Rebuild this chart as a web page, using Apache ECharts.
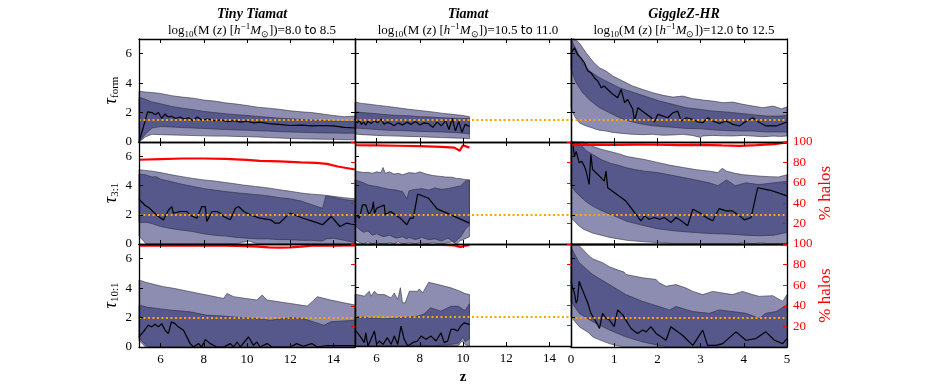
<!DOCTYPE html>
<html>
<head>
<meta charset="utf-8">
<script src="https://cdn.jsdelivr.net/npm/echarts@6/dist/echarts.min.js"></script>
<style>
  html, body { margin: 0; padding: 0; background: #fff; }
  #chart { width: 926px; height: 386px; }
</style>
</head>
<body>
<div id="chart"></div>
<script>
// band rows are [z, lower, upper]; median / % rows are [z, value]

// ---- tau_form ----
const tinyFormOuter = [[5,0,3.45],[5.3,0.35,3.4],[5.6,0.52,3.36],[6,0.5,3.3],[6.5,0.48,3.15],[7,0.46,3.05],[7.5,0.44,2.98],[8,0.42,2.85],[8.5,0.4,2.78],[9,0.4,2.66],[9.5,0.38,2.58],[10,0.36,2.48],[10.5,0.34,2.36],[11,0.3,2.3],[11.5,0.27,2.22],[12,0.24,2.12],[12.5,0.22,2.05],[13,0.2,2.0],[13.5,0.19,1.9],[14,0.18,1.8],[14.5,0.16,1.72],[15,0.15,1.76]];
const tinyFormInner = [[5,0,3.05],[5.3,0.55,2.9],[5.6,0.95,2.72],[6,1.05,2.6],[6.5,1.02,2.42],[7,0.98,2.3],[7.5,0.95,2.2],[8,0.92,2.08],[8.5,0.88,2.0],[9,0.85,1.92],[9.5,0.82,1.86],[10,0.8,1.8],[10.5,0.76,1.74],[11,0.74,1.68],[11.5,0.7,1.62],[12,0.68,1.58],[12.5,0.66,1.54],[13,0.64,1.5],[13.5,0.62,1.46],[14,0.61,1.42],[14.5,0.6,1.4],[15,0.6,1.38]];
const tinyFormMed = [[5,0],[5.2,1.0],[5.4,2.05],[5.6,2.0],[5.75,1.85],[5.9,2.0],[6.05,1.6],[6.2,1.9],[6.35,1.7],[6.5,1.75],[6.7,1.6],[6.9,1.7],[7.1,1.55],[7.3,1.65],[7.5,1.45],[7.7,1.7],[7.9,1.5],[8.2,1.55],[8.5,1.45],[8.8,1.5],[9.1,1.38],[9.4,1.45],[9.7,1.35],[10.0,1.42],[10.3,1.3],[10.6,1.35],[11.0,1.25],[11.5,1.2],[12,1.12],[12.5,1.15],[13,1.1],[13.5,1.12],[14,1.1],[14.5,1.0],[15,0.95]];

const tiamatFormOuter = [[5,0.55,2.72],[5.3,0.5,2.62],[5.6,0.48,2.58],[6,0.45,2.5],[6.5,0.42,2.42],[7,0.4,2.32],[7.5,0.38,2.22],[8,0.36,2.14],[8.5,0.33,2.06],[9,0.3,1.96],[9.5,0.28,1.88],[10,0.25,1.8],[10.3,0.22,1.72]];
const tiamatFormInner = [[5,0.95,2.05],[5.5,0.9,1.98],[6,0.85,1.92],[6.5,0.8,1.85],[7,0.78,1.8],[7.5,0.75,1.78],[8,0.72,1.72],[8.5,0.7,1.7],[9,0.68,1.65],[9.5,0.65,1.62],[10,0.6,1.6],[10.3,0.55,1.6]];
const tiamatFormMed = [[5,1.55],[5.1,1.3],[5.2,1.45],[5.3,1.2],[5.4,1.35],[5.5,1.15],[5.6,1.4],[5.75,1.25],[5.9,1.45],[6.05,1.3],[6.2,1.55],[6.35,1.2],[6.5,1.35],[6.65,1.25],[6.8,1.1],[7.0,1.3],[7.2,1.15],[7.4,1.35],[7.6,1.2],[7.8,1.4],[8.0,1.15],[8.2,1.3],[8.4,1.25],[8.6,1.0],[8.8,1.35],[9.0,1.1],[9.2,1.45],[9.35,0.85],[9.5,1.6],[9.65,0.75],[9.8,1.4],[9.95,0.65],[10.1,1.2],[10.3,1.05]];

const giggleFormOuter = [[0,2.33,7],[0.08,1.76,7],[0.19,1.31,6.74],[0.35,1.09,6.06],[0.5,0.95,5.5],[0.58,0.86,5.25],[0.66,0.8,5.04],[0.81,0.75,4.82],[0.97,0.65,4.48],[1.2,0.58,4.14],[1.43,0.52,3.8],[1.66,0.5,3.57],[1.89,0.52,3.35],[2.13,0.46,3.17],[2.36,0.48,3.05],[2.59,0.52,3.12],[2.82,0.44,2.94],[3.0,0.3,2.88],[3.05,0.41,2.85],[3.28,0.45,2.78],[3.52,0.42,2.67],[3.75,0.41,2.71],[3.98,0.45,2.56],[4.21,0.4,2.44],[4.44,0.36,2.33],[4.68,0.4,2.44],[4.87,0.38,2.26],[5,0.41,2.38]];
const giggleFormInner = [[0,4.93,7],[0.08,4.3,6.52],[0.12,4.03,6.3],[0.27,3.35,5.38],[0.43,2.85,4.82],[0.66,2.33,4.37],[0.89,1.99,4.03],[1.12,1.65,3.69],[1.35,1.42,3.46],[1.58,1.25,3.24],[1.82,1.13,3.01],[2.05,1.06,2.78],[2.36,1.0,2.56],[2.67,0.92,2.33],[2.98,0.9,2.22],[3.28,0.83,2.1],[3.59,0.77,2.04],[3.9,0.75,1.95],[4.21,0.74,1.86],[4.52,0.68,1.76],[4.83,0.68,1.76],[5,0.68,1.81]];
const giggleFormMed = [[0,6.06],[0.08,6.4],[0.15,5.95],[0.23,5.72],[0.31,5.38],[0.39,4.82],[0.46,4.71],[0.54,4.37],[0.62,4.14],[0.7,3.69],[0.77,3.8],[0.85,3.57],[0.97,3.24],[1.08,3.01],[1.16,3.57],[1.24,2.67],[1.31,2.9],[1.43,2.22],[1.47,1.43],[1.55,2.33],[1.7,1.99],[1.86,1.65],[1.93,1.36],[2.01,1.88],[2.13,1.76],[2.24,1.65],[2.36,1.99],[2.47,2.1],[2.55,1.43],[2.67,1.65],[2.82,1.54],[2.94,1.36],[3.05,1.31],[3.17,1.65],[3.28,1.43],[3.44,1.27],[3.59,1.43],[3.75,1.2],[3.9,1.09],[4.06,1.43],[4.21,1.65],[4.37,1.31],[4.52,1.09],[4.75,1.09],[5,1.36]];

// ---- tau_3:1 ----
const tiny31Outer = [[5,0.55,5.1],[5.3,0.05,5.05],[5.6,0,5.0],[6,0,4.9],[6.5,0,4.75],[7,0,4.62],[7.5,0,4.5],[8,0,4.4],[8.5,0,4.32],[9,0,4.22],[9.5,0,4.12],[9.8,0.12,4.05],[10.1,0.2,4.0],[10.4,0.05,3.95],[10.8,0,3.88],[11.2,0,3.8],[11.6,0,3.7],[12,0,3.62],[12.5,0,3.5],[13,0,3.42],[13.5,0,3.37],[14,0,3.27],[14.5,0,3.18],[15,0,3.1]];
const tiny31Inner = [[5,1.45,4.8],[5.3,1.5,4.75],[5.6,1.4,4.6],[5.8,1.3,4.62],[6,1.2,4.45],[6.5,1.05,4.28],[7,0.95,4.1],[7.5,0.85,3.95],[8,0.7,3.8],[8.5,0.6,3.7],[9,0.55,3.6],[9.5,0.45,3.52],[10,0.4,3.45],[10.5,0.35,3.38],[11,0.35,3.3],[11.5,0.3,3.18],[12,0.3,3.1],[12.5,0.25,2.95],[13,0.25,2.7],[13.5,0.2,2.45],[13.65,0.35,3.3],[14,0.4,3.2],[14.5,0.25,3.05],[15,0.1,2.95]];
const tiny31Med = [[5,3.07],[5.28,2.66],[5.51,2.43],[5.59,2.32],[5.82,1.98],[6.13,1.64],[6.36,2.32],[6.52,2.57],[6.59,2.11],[6.9,2.23],[7.21,2.23],[7.37,1.98],[7.68,1.77],[7.91,2.57],[8.07,2.57],[8.14,1.55],[8.22,1.43],[8.38,2.23],[8.61,2.23],[8.76,2.11],[8.92,1.89],[9.23,1.66],[9.46,2.45],[9.61,2.57],[9.85,2.23],[10.15,2.0],[10.6,1.77],[11.1,1.66],[11.3,1.43],[11.5,1.43],[11.9,2.0],[12.0,2.11],[12.6,1.77],[13.3,1.43],[13.5,1.32],[13.9,1.89],[14.3,1.2],[14.6,1.43],[15,1.32]];
const tiny31Pct = [[5,82.6],[6,83.2],[7,83.8],[8,83.8],[9,83.5],[10,82.5],[10.6,81.5],[11.5,81],[12.5,80],[13.2,79.5],[13.7,78.5],[14.2,76],[14.6,74.5],[15,73]];

const tiamat31Outer = [[5,0.3,5.0],[5.2,0.1,4.95],[5.4,0,4.9],[5.6,0.15,4.92],[5.8,0,4.85],[6.0,0.1,4.95],[6.2,0,4.9],[6.3,0.05,5.25],[6.4,0,4.85],[6.6,0.1,4.95],[6.8,0,4.8],[7.0,0.15,4.85],[7.2,0,4.75],[7.5,0.1,4.9],[7.8,0,4.85],[8.0,0.1,4.95],[8.3,0,4.8],[8.6,0.1,4.7],[8.9,0,4.65],[9.2,0.05,4.6],[9.5,0.15,4.58],[9.7,0,4.5],[9.85,0.2,4.5],[10.0,0.3,4.45],[10.3,0.5,4.4]];
const tiamat31Inner = [[5,1.3,4.4],[5.2,1.0,4.3],[5.4,0.8,4.2],[5.6,0.9,4.05],[5.8,0.6,4.0],[6.0,0.7,3.95],[6.3,0.5,3.85],[6.6,0.6,3.75],[6.9,0.4,3.7],[7.2,0.5,3.6],[7.4,0.35,3.1],[7.5,0.45,3.65],[7.8,0.3,3.75],[8.1,0.45,3.8],[8.4,0.3,3.7],[8.7,0.35,3.85],[9.0,0.2,3.75],[9.3,0.4,3.8],[9.6,0.1,3.9],[9.9,0.5,4.0],[10.1,1.0,4.3],[10.3,1.3,4.4]];
const tiamat31Med = [[5.05,2.0],[5.2,1.77],[5.35,2.68],[5.5,2.68],[5.65,2.0],[5.8,2.45],[5.85,2.9],[5.9,2.1],[6.0,2.45],[6.35,2.68],[6.4,2.0],[6.65,2.23],[7.1,1.77],[7.4,1.32],[7.55,1.77],[7.7,1.77],[7.9,3.43],[8.4,3.14],[8.8,2.41],[9.45,2.0],[10.3,1.43]];
const tiamat31Pct = [[5,96.8],[6,96.6],[7,96.3],[8,96],[9,95.3],[9.6,94.5],[9.85,91.5],[10.0,96.8],[10.3,94.5]];

const giggle31Outer = [[0,1.8,7],[0.1,1.5,7],[0.2,1.2,7],[0.3,1.0,7],[0.5,0.75,6.7],[0.7,0.6,6.5],[0.9,0.45,6.35],[1.1,0.35,6.2],[1.3,0.25,6.0],[1.5,0.2,5.9],[1.7,0.15,5.8],[2.0,0.1,5.6],[2.3,0.05,5.4],[2.6,0,5.25],[2.9,0,5.1],[3.2,0,5.0],[3.4,0,4.9],[3.5,0,5.2],[3.6,0,5.0],[3.8,0,4.85],[4.0,0.1,4.75],[4.2,0,4.7],[4.4,0.1,4.65],[4.6,0,4.62],[4.8,0,4.6],[5,0,4.75]];
const giggle31Inner = [[0,4.0,7],[0.1,3.6,7],[0.2,3.3,6.9],[0.35,2.9,6.4],[0.5,2.6,6.15],[0.7,2.3,5.8],[0.9,2.05,5.55],[1.1,1.8,5.4],[1.3,1.55,5.22],[1.5,1.4,5.1],[1.7,1.25,5.0],[2.0,1.05,4.9],[2.4,0.9,4.68],[2.8,0.8,4.45],[3.2,0.72,4.2],[3.4,0.7,4.0],[3.6,0.68,4.4],[3.8,0.65,4.0],[4.05,0.6,4.2],[4.35,0.57,4.08],[4.7,0.6,4.2],[5,0.8,4.3]];
const giggle31Med = [[0,6.7],[0.04,6.93],[0.08,6.0],[0.12,6.36],[0.19,5.57],[0.25,5.68],[0.31,5.34],[0.35,5.0],[0.42,4.09],[0.46,6.14],[0.5,5.11],[0.66,4.66],[0.77,4.32],[0.81,5.0],[0.85,3.86],[1.27,2.95],[1.62,1.59],[1.7,1.93],[1.81,1.7],[1.93,1.82],[2.05,1.7],[2.16,1.82],[2.32,1.48],[2.43,1.82],[2.55,1.59],[2.7,1.25],[2.82,2.39],[2.97,2.16],[3.13,1.82],[3.28,1.59],[3.43,2.43],[3.59,2.27],[3.74,2.27],[3.9,1.93],[4.01,1.66],[4.17,1.82],[4.32,3.86],[4.67,3.64],[5,3.3]];
const giggle31Pct = [[0,97],[0.5,97.4],[1,97.2],[1.5,97.4],[2,97.3],[2.5,97],[3,97.2],[3.5,96.6],[3.9,96.2],[4.3,97],[4.7,98],[5,99.6]];

// ---- tau_10:1 ----
const tiny101Outer = [[5,0.45,4.56],[5.3,0,4.4],[5.82,0,4.21],[6.13,0,4.1],[6.6,0,3.99],[7.37,0,3.76],[8.14,0,3.53],[8.92,0,3.3],[9.07,0,3.64],[9.38,0,3.42],[10.46,0,3.19],[10.7,0,3.53],[10.93,0,3.19],[12.0,0,2.96],[12.79,0,2.78],[13.02,0,3.08],[13.25,0,3.42],[13.87,0,3.19],[15,0,2.85]];
const tiny101Inner = [[5,0.6,2.85],[5.4,0,2.7],[5.82,0,2.62],[6.44,0,2.51],[7.37,0,2.39],[8.14,0,2.16],[8.92,0,2.1],[9.69,0,2.0],[10.46,0,1.94],[11.08,0,1.82],[12.0,0,2.0],[12.6,0,1.94],[13.56,0,1.48],[13.87,0,1.71],[15,0,1.82]];
const tiny101Med = [[5,0.68],[5.2,1.03],[5.43,1.48],[5.59,1.37],[5.74,1.55],[5.9,1.37],[6.05,1.59],[6.21,1.14],[6.36,0.91],[6.5,1.71],[6.67,1.59],[6.82,1.37],[7.06,1.14],[7.37,0.23],[7.52,0],[7.76,0.23],[7.9,0],[8.07,0.5],[8.3,0.23],[8.6,0],[8.92,0],[9.07,0.11],[9.23,0.23],[9.38,0],[9.54,0.34],[9.69,0],[10.07,0.68],[10.3,0.11],[10.46,0.34],[10.6,0],[10.93,0.23],[11.16,0],[12,0],[12.3,0.23],[12.6,0.05],[13.0,0.23],[13.25,0],[13.7,0.1],[15,0.1]];
const tiny101Pct = [[5,98.5],[6,98.6],[7,98.5],[8,98.4],[9,98.3],[10,98],[10.5,97.5],[11,96.8],[11.5,96.5],[12,96.8],[12.5,97.5],[13,98.3],[14,98.5],[15,98.6]];

const tiamat101Outer = [[5.0,0,3.53],[5.2,0,3.5],[5.43,0,3.42],[5.66,0,3.76],[5.74,0,3.42],[5.9,0,3.76],[6.05,0,3.53],[6.36,0,3.53],[6.67,0,3.3],[6.82,0,3.64],[6.98,0,3.19],[7.1,0,4.0],[7.2,0,2.96],[7.32,0,2.96],[7.52,0,3.76],[7.9,0,3.76],[7.98,0,3.92],[8.13,0,3.64],[8.41,0,4.37],[8.9,0,4.2],[9.44,0,3.99],[9.8,0.05,3.8],[9.95,0.35,3.7],[10.1,0.1,3.6],[10.3,0,3.53]];
const tiamat101Inner = [[5.0,0.05,2.05],[5.6,0,1.94],[6.36,0.05,1.87],[7.1,0,1.94],[7.9,0.05,2.05],[8.2,0.05,2.2],[8.5,0,2.62],[8.98,0.05,2.39],[9.44,0.1,2.73],[9.8,0.2,2.73],[10.0,0.6,2.5],[10.1,0.3,2.45],[10.3,0.5,2.9]];
const tiamat101Med = [[5.05,1.03],[5.28,0.57],[5.43,0.23],[5.5,0.91],[5.6,0],[5.74,0.46],[5.9,1.03],[6.0,0.11],[6.13,0.34],[6.3,0.11],[6.5,0.57],[6.67,0.11],[6.82,0.68],[6.98,0.11],[7.13,1.37],[7.28,0.46],[7.44,0],[7.67,0.23],[7.9,0.34],[8.05,0.68],[8.29,0.46],[8.52,0.68],[8.75,0.34],[8.98,0.91],[9.13,0.23],[9.29,0.34],[9.44,1.14],[9.6,1.14],[9.75,1.03],[9.9,1.37],[10.05,1.59],[10.3,1.48]];
const tiamat101Pct = [[5,99.3],[6,99.3],[7,99.2],[8,99.2],[9,99.0],[9.6,98.6],[9.9,97],[10.1,98.5],[10.3,98.8]];

const giggle101Outer = [[0,2.06,7],[0.19,1.38,6.88],[0.42,0.95,6.19],[0.5,0.69,6.0],[0.73,0.4,5.73],[0.89,0.23,5.45],[1.04,0.1,5.28],[1.23,0,5.09],[1.27,0,4.93],[1.66,0,4.7],[1.97,0,4.59],[2.04,0,4.36],[2.2,0,4.13],[2.43,0,4.24],[2.66,0,4.01],[2.82,0,3.78],[3.05,0,3.56],[3.28,0,3.78],[3.51,0,3.67],[3.74,0,3.56],[3.97,0,3.78],[4.2,0,3.56],[4.36,0,3.44],[4.67,0,3.49],[4.9,0,3.1],[5,0,3.56]];
const giggle101Inner = [[0,3.1,6.77],[0.19,2.29,5.73],[0.5,1.72,4.93],[0.89,1.15,4.24],[1.27,0.69,3.56],[1.66,0.34,3.1],[2.04,0.11,2.75],[2.28,0,2.52],[2.43,0,2.75],[2.82,0,2.41],[3.2,0,2.29],[3.43,0,2.52],[3.74,0,2.41],[4.05,0,2.29],[4.36,0,1.95],[4.51,0,2.29],[4.75,0,2.41],[5,0,2.87]];
const giggle101Med = [[0,4.47],[0.04,4.01],[0.08,3.67],[0.12,2.98],[0.15,3.21],[0.19,4.47],[0.23,4.13],[0.31,3.56],[0.39,2.98],[0.46,2.29],[0.58,1.72],[0.66,1.26],[0.73,2.29],[0.81,1.95],[0.89,1.83],[1.0,1.38],[1.08,2.52],[1.2,2.18],[1.27,1.83],[1.39,1.26],[1.54,0.92],[1.66,1.15],[1.74,1.03],[1.85,1.38],[1.97,0.92],[2.2,0.46],[2.31,1.38],[2.58,0.8],[2.82,0.11],[3.05,1.15],[3.16,0.11],[3.36,0.11],[3.51,0.23],[3.82,1.03],[4.05,0.46],[4.28,0.57],[4.51,1.03],[4.71,0.46],[4.9,0.23],[5,0.57]];
const giggle101Pct = [[0,99.4],[1,99.5],[2,99.5],[3,99.5],[4,99.5],[5,99.6]];

// ---- labels / axes ----
const simNames = ['Tiny Tiamat', 'Tiamat', 'GiggleZ-HR'];
const massLo = ['8.0', '10.5', '12.0'];
const massHi = ['8.5', '11.0', '12.5'];
const tauSubs = ['form', '3:1', '10:1'];
const refLevels = [1.5, 2, 2];
const xRanges = [[5, 15], [5, 15], [0, 5]];
const xTicks = [[6, 8, 10, 12, 14], [6, 8, 10, 12, 14], [0, 1, 2, 3, 4, 5]];
const yTicks = [0, 2, 4, 6];
const pctTicks = [20, 40, 60, 80, 100];

const panels = [
  [tinyFormOuter, tinyFormInner, tinyFormMed, null],
  [tiamatFormOuter, tiamatFormInner, tiamatFormMed, null],
  [giggleFormOuter, giggleFormInner, giggleFormMed, null],
  [tiny31Outer, tiny31Inner, tiny31Med, tiny31Pct],
  [tiamat31Outer, tiamat31Inner, tiamat31Med, tiamat31Pct],
  [giggle31Outer, giggle31Inner, giggle31Med, giggle31Pct],
  [tiny101Outer, tiny101Inner, tiny101Med, tiny101Pct],
  [tiamat101Outer, tiamat101Inner, tiamat101Med, tiamat101Pct],
  [giggle101Outer, giggle101Inner, giggle101Med, giggle101Pct]
];

const SERIF = 'Liberation Serif';
const colLeft = [139, 355, 571], colW = 216;
const rowTop = [39, 142, 244], rowH = [103, 102, 103];

function band(data, xi, yi, fill) {
  return {
    type: 'custom', xAxisIndex: xi, yAxisIndex: yi, silent: true, z: 2,
    data: [[data[0][0], data[0][1]]],
    renderItem: function (params, api) {
      const up = data.map(d => api.coord([d[0], d[2]]));
      const lo = data.slice().reverse().map(d => api.coord([d[0], d[1]]));
      return {
        type: 'polygon',
        shape: { points: up.concat(lo) },
        style: { fill: fill, stroke: 'rgba(45,45,60,0.75)', lineWidth: 0.8 }
      };
    }
  };
}

const grids = [], xAxes = [], yAxes = [], series = [], titles = [];

for (let r = 0; r < 3; r++) {
  for (let c = 0; c < 3; c++) {
    const i = r * 3 + c;
    grids.push({ left: colLeft[c], top: rowTop[r], width: colW, height: rowH[r] });
    const frame = { show: true, onZero: false, lineStyle: { color: '#000', width: 1.3 } };
    const xBase = {
      type: 'value', gridIndex: i, min: xRanges[c][0], max: xRanges[c][1], z: 5,
      axisLine: frame, splitLine: { show: false },
      axisTick: { inside: true, length: 4, lineStyle: { color: '#000' }, customValues: xTicks[c] }
    };
    xAxes.push(Object.assign({}, xBase, {
      position: 'bottom',
      axisLabel: { show: r === 2, customValues: xTicks[c], fontFamily: SERIF, fontSize: 13, color: '#000', margin: 6 },
      name: (r === 2 && c === 1) ? 'z' : '',
      nameLocation: 'middle', nameGap: 24,
      nameTextStyle: { fontFamily: SERIF, fontWeight: 'bold', fontSize: 15, color: '#000' }
    }));
    xAxes.push(Object.assign({}, xBase, { position: 'top', axisLabel: { show: false } }));

    yAxes.push({
      type: 'value', gridIndex: i, position: 'left', min: 0, max: 7, z: 5,
      axisLine: frame, splitLine: { show: false },
      axisTick: { inside: true, length: 4, lineStyle: { color: '#000' }, customValues: yTicks },
      axisLabel: { show: c === 0, customValues: yTicks, fontFamily: SERIF, fontSize: 13, color: '#000', margin: 7 },
      name: c === 0 ? '{t|τ}{s|' + tauSubs[r] + '}' : '',
      nameLocation: 'middle', nameGap: 18,
      nameTextStyle: {
        rich: {
          t: { fontFamily: SERIF, fontStyle: 'italic', fontSize: 18, lineHeight: 20, color: '#000' },
          s: { fontFamily: SERIF, fontSize: 11, lineHeight: 11, verticalAlign: 'bottom', color: '#000' }
        }
      }
    });
    if (r === 0) {
      yAxes.push({
        type: 'value', gridIndex: i, position: 'right', min: 0, max: 7, z: 5,
        axisLine: frame, splitLine: { show: false },
        axisTick: { inside: true, length: 4, lineStyle: { color: '#000' }, customValues: yTicks },
        axisLabel: { show: false }
      });
    } else {
      yAxes.push({
        type: 'value', gridIndex: i, position: 'right', min: 0, max: 100, z: 5,
        axisLine: frame, splitLine: { show: false },
        axisTick: { inside: true, length: 4, lineStyle: { color: '#ff0000' }, customValues: pctTicks },
        axisLabel: { show: c === 2, customValues: pctTicks, fontFamily: SERIF, fontSize: 13, color: '#ff0000', margin: 6 },
        name: c === 2 ? '% halos' : '',
        nameLocation: 'middle', nameGap: 30,
        nameTextStyle: { fontFamily: SERIF, fontSize: 17, color: '#ff0000' }
      });
    }

    const p = panels[i];
    series.push(band(p[0], 2 * i, 2 * i, '#8c8db1'));
    series.push(band(p[1], 2 * i, 2 * i, '#56578a'));
    series.push({
      type: 'line', xAxisIndex: 2 * i, yAxisIndex: 2 * i, data: p[2], z: 3,
      showSymbol: false, silent: true,
      lineStyle: { color: '#000', width: 1.2 },
      markLine: {
        silent: true, symbol: ['none', 'none'], label: { show: false },
        lineStyle: { color: '#ffa500', type: [2, 2.5], width: 2 },
        data: [{ yAxis: refLevels[r] }]
      }
    });
    if (p[3]) {
      series.push({
        type: 'line', xAxisIndex: 2 * i, yAxisIndex: 2 * i + 1, data: p[3], z: 4,
        showSymbol: false, silent: true,
        lineStyle: { color: '#ff0000', width: 2.2 }
      });
    }
  }
}

const titleRich = {
  b: { fontFamily: SERIF, fontStyle: 'italic', fontWeight: 'bold', fontSize: 14, lineHeight: 15, color: '#000' },
  n: { fontFamily: SERIF, fontWeight: 'normal', fontSize: 13, lineHeight: 17, color: '#000' },
  i: { fontFamily: SERIF, fontWeight: 'normal', fontStyle: 'italic', fontSize: 13, lineHeight: 17, color: '#000' },
  f: { fontFamily: 'DejaVu Sans', fontWeight: 'normal', fontSize: 12, lineHeight: 17, color: '#000' },
  s: { fontFamily: SERIF, fontWeight: 'normal', fontSize: 9, lineHeight: 9, verticalAlign: 'bottom', color: '#000' },
  p: { fontFamily: SERIF, fontWeight: 'normal', fontSize: 9, lineHeight: 9, verticalAlign: 'top', color: '#000' }
};
for (let c = 0; c < 3; c++) {
  titles.push({
    left: colLeft[c] + colW / 2, top: 2, textAlign: 'center',
    text: '{b|' + simNames[c] + '}\n{n|log}{s|10}{n|(M (}{i|z}{n|) [}{i|h}{p|−1}{i|M}{s|⊙}{n|])=' +
      massLo[c] + ' }{f|to}{n| ' + massHi[c] + '}',
    textStyle: { fontWeight: 'normal', rich: titleRich }
  });
}

const chart = echarts.init(document.getElementById('chart'), null, { renderer: 'canvas' });
chart.setOption({
  animation: false,
  backgroundColor: '#fff',
  title: titles,
  grid: grids,
  xAxis: xAxes,
  yAxis: yAxes,
  series: series
});
</script>
</body>
</html>
